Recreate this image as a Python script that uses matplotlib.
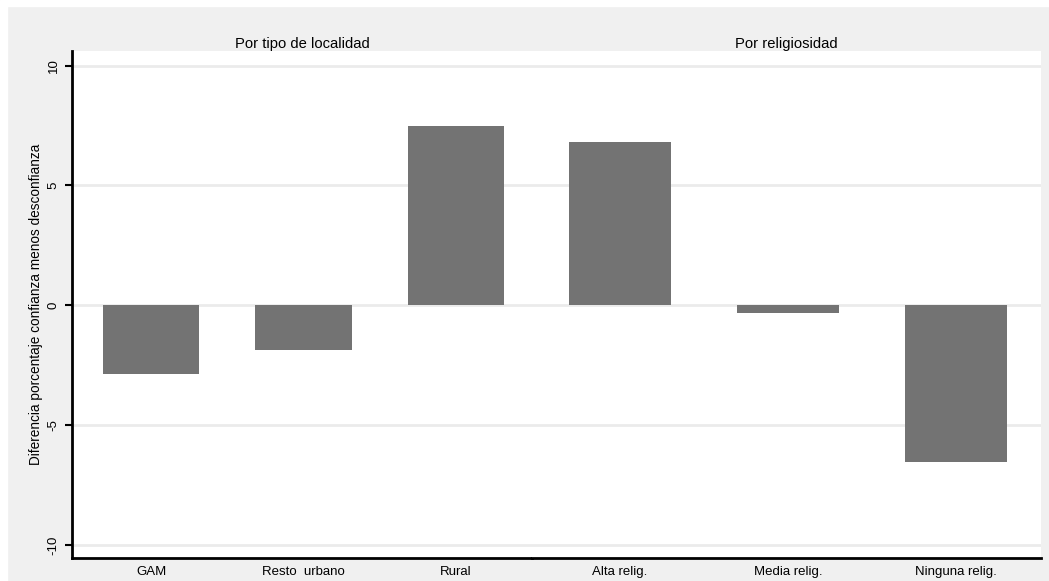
import matplotlib.pyplot as plt
from matplotlib.patches import Rectangle

plt.rcParams['font.family'] = ['Liberation Sans', 'DejaVu Sans']

# data
loc_labels = ['GAM', 'Resto  urbano', 'Rural']
loc_values = [-2.85, -1.85, 7.47]
rel_labels = ['Alta relig.', 'Media relig.', 'Ninguna relig.']
rel_values = [6.80, -0.32, -6.53]
yticks = [-10, -5, 0, 5, 10]

W, H = 1049, 581
fig = plt.figure(figsize=(W / 100, H / 100), dpi=100)
fig.patch.set_facecolor('#f0f0f0')
# thin white border on top and left like the original export
fig.patches.append(Rectangle((0, 0), 7 / W, 1, transform=fig.transFigure, color='white', zorder=0))
fig.patches.append(Rectangle((0, 1 - 6 / H), 1, 6 / H, transform=fig.transFigure, color='white', zorder=0))

top, bottom = 51, 558
ylim = (-10.54, 10.61)
bar_color = '#737373'
grid_color = '#ebebeb'


def make_panel(x0, x1, labels, values, xlim, width, title, first):
    ax = fig.add_axes([x0 / W, (H - bottom) / H, (x1 - x0) / W, (bottom - top) / H])
    ax.set_facecolor('white')
    ax.set_xlim(*xlim)
    ax.set_ylim(*ylim)
    for y in yticks:
        ax.axhline(y, color=grid_color, lw=2, zorder=0)
    ax.bar(range(len(values)), values, width=width, color=bar_color, zorder=2)
    ax.set_xticks(range(len(labels)))
    ax.set_xticklabels(labels, fontsize=9.5)
    ax.tick_params(axis='x', length=0, pad=6)
    for s in ['top', 'right']:
        ax.spines[s].set_visible(False)
    ax.spines['bottom'].set_linewidth(2)
    if first:
        ax.spines['left'].set_linewidth(2)
        ax.set_yticks(yticks)
        ax.set_yticklabels([str(t) for t in yticks], rotation=90, va='center', fontsize=9.5)
        ax.tick_params(axis='y', length=5, width=1.5, pad=4)
        ax.set_ylabel('Diferencia porcentaje confianza menos desconfianza', fontsize=9.8, labelpad=3)
    else:
        ax.spines['left'].set_visible(False)
        ax.set_yticks([])
    ax.set_title(title, fontsize=10.6, pad=1)
    return ax


make_panel(72, 532, loc_labels, loc_values, (-0.518, 2.498), 0.63, 'Por tipo de localidad', True)
make_panel(532, 1041, rel_labels, rel_values, (-0.524, 2.506), 0.607, 'Por religiosidad', False)

fig.savefig('out.png', dpi=100, facecolor=fig.get_facecolor())
